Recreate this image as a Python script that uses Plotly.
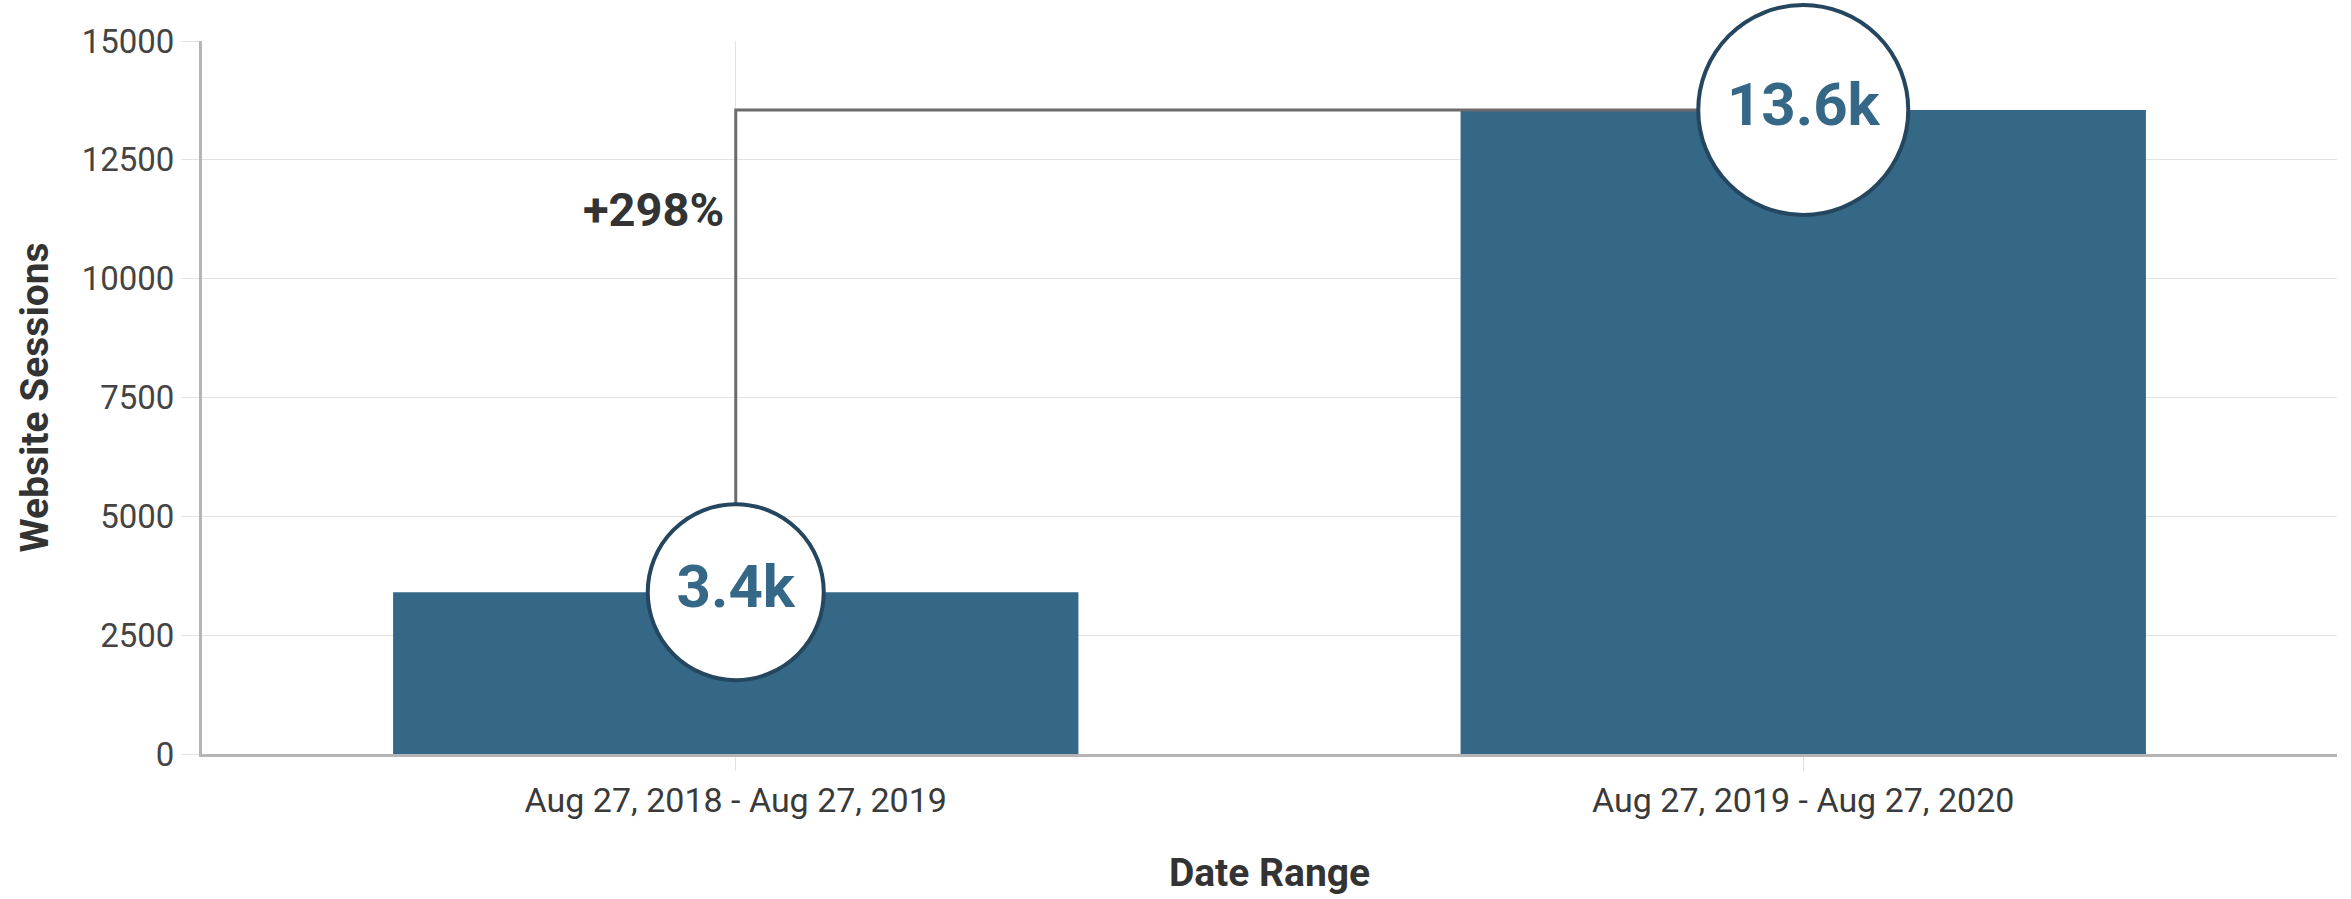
import plotly.graph_objects as go

categories = ["Aug 27, 2018 - Aug 27, 2019", "Aug 27, 2019 - Aug 27, 2020"]
sessions = [3405, 13550]
bubble_labels = ["3.4k", "13.6k"]
change_label = "+298%"
change_label_y = 11450
y_ticks = [0, 2500, 5000, 7500, 10000, 12500, 15000]
y_tick_text = ["0", "2500", "5000", "7500", "10000", "12500", "15000"]

BAR = "#356787"
RING = "#25465f"
GRID = "#e3e3e3"

fig = go.Figure()
fig.add_trace(go.Bar(x=categories, y=sessions, width=0.642, marker=dict(color=BAR, line=dict(width=0)),
                     hoverinfo="skip", showlegend=False))

# bracket line from first value up to second value level then across
fig.add_trace(go.Scatter(x=[categories[0], categories[0], categories[1]],
                         y=[sessions[0], sessions[1], sessions[1]],
                         mode="lines", line=dict(color="#6b6b6b", width=3),
                         hoverinfo="skip", showlegend=False))

fig.add_trace(go.Scatter(x=categories, y=sessions, mode="markers+text",
                         text=bubble_labels, textposition="middle center",
                         textfont=dict(family="Roboto", size=60, color=BAR, weight="bold"),
                         marker=dict(size=[176, 210], color="white", line=dict(color=RING, width=4), opacity=1),
                         hoverinfo="skip", showlegend=False, cliponaxis=False))

fig.add_annotation(x=categories[0], y=change_label_y, text="<b>" + change_label + "</b>",
                   showarrow=False, xanchor="right", yanchor="middle", xshift=-10,
                   font=dict(family="Roboto", size=47, color="#333333"))

fig.update_layout(
    width=2351, height=899,
    margin=dict(l=202, r=14, t=41, b=145),
    plot_bgcolor="white", paper_bgcolor="white",
    font=dict(family="Roboto", color="#444444"),
    bargap=0.36,
)
fig.update_xaxes(
    range=[-0.5, 1.5], showgrid=True, gridcolor=GRID, gridwidth=1,
    showline=True, linecolor="#b5b5b5", linewidth=3,
    ticks="outside", ticklen=14, tickcolor=GRID, tickwidth=1,
    tickfont=dict(family="Roboto", size=34, color="#3a3a3a"),
    title=dict(text="<b>Date Range</b>", font=dict(family="Roboto", size=39, color="#333333"), standoff=40),
)
fig.update_yaxes(
    range=[0, 15000], tickvals=y_ticks, ticktext=y_tick_text, showgrid=True, gridcolor=GRID, gridwidth=1,
    showline=True, linecolor="#b5b5b5", linewidth=3,
    ticks="outside", ticklen=18, tickcolor=GRID, tickwidth=1,
    tickfont=dict(family="Roboto", size=33, color="#444444"),
    title=dict(text="<b>Website Sessions</b>", font=dict(family="Roboto", size=39, color="#333333"), standoff=22),
    zeroline=False,
)

fig.write_html("out.html", config={"displayModeBar": False},
               post_script="document.body.style.margin='0';")
